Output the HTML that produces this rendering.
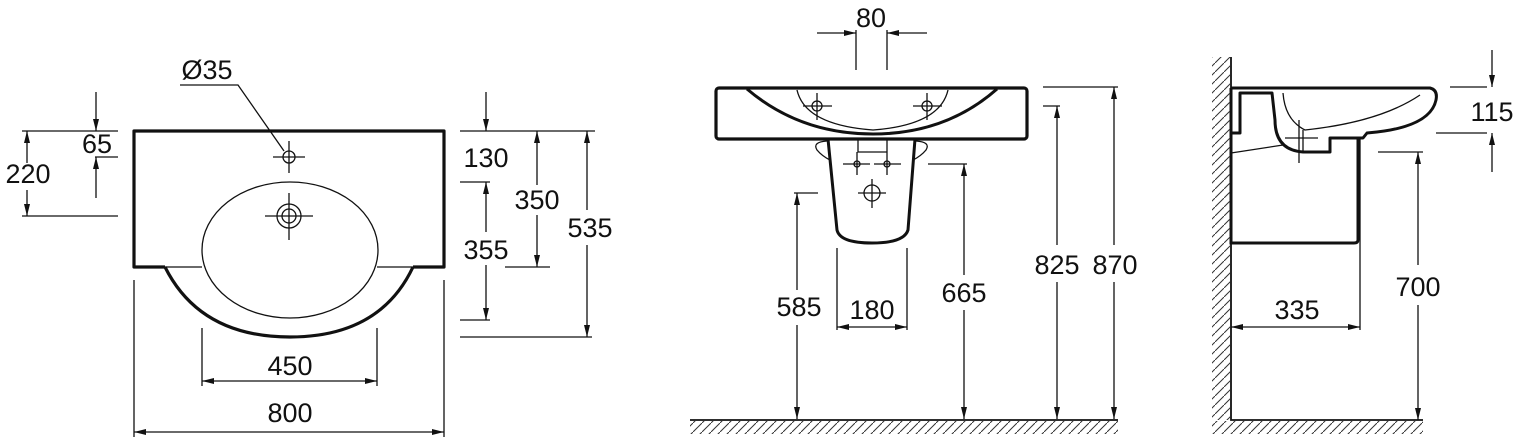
<!DOCTYPE html>
<html><head><meta charset="utf-8"><style>
html,body{margin:0;padding:0;background:#fff;}
svg{display:block;}
text{font-family:"Liberation Sans",Arial,sans-serif;font-size:27px;fill:#111;text-anchor:middle;}
</style></head><body>
<svg width="1516" height="446" viewBox="0 0 1516 446" xmlns="http://www.w3.org/2000/svg">
<defs>
<marker id="a" viewBox="0 0 12 6" refX="12" refY="3" markerWidth="12" markerHeight="6" orient="auto" markerUnits="userSpaceOnUse">
<path d="M0,0 L12,3 L0,6 z" fill="#111"/></marker>
<pattern id="h" width="9" height="9" patternUnits="userSpaceOnUse">
<path d="M0,9 L9,0" stroke="#333" stroke-width="1"/></pattern>
</defs>
<g fill="none" stroke="#111" stroke-width="1.3">
<path d="M165,267 L134,267 L134,131 L444,131 L444,267 L413,267" stroke-width="3.2" stroke-linejoin="round"/>
<path d="M165,267 Q200,337 290,337 Q380,337 413,267" stroke-width="3.2"/>
<path d="M165,267 L202,267 M377,267 L413,267"/>
<ellipse cx="290" cy="250" rx="88" ry="68"/>
<circle cx="289" cy="157" r="6"/><path d="M273,157 H305 M289,141 V173"/>
<circle cx="289" cy="216" r="12"/><circle cx="289" cy="216" r="7"/><path d="M265,216 H313 M289,193 V240"/>
<path d="M180,85 H238 L284,151"/>
<path d="M22,131 H118 M95,157 H118 M22,216 H118"/>
<path d="M96,92 V131" marker-end="url(#a)"/><path d="M96,198 V157" marker-end="url(#a)"/>
<path d="M27,163 V131" marker-end="url(#a)"/><path d="M27,190 V216" marker-end="url(#a)"/>
<path d="M460,131 H595 M460,182 H490 M505,267 H550 M460,320 H490 M460,337 H592"/>
<path d="M486,92 V131" marker-end="url(#a)"/>
<path d="M486,232 V182" marker-end="url(#a)"/><path d="M486,265 V320" marker-end="url(#a)"/>
<path d="M537,185 V131" marker-end="url(#a)"/><path d="M537,215 V267" marker-end="url(#a)"/>
<path d="M587,210 V131" marker-end="url(#a)"/><path d="M587,245 V337" marker-end="url(#a)"/>
<path d="M134,280 V437 M444,280 V437 M202,328 V386 M377,328 V386"/>
<path d="M290,381 H202" marker-end="url(#a)"/><path d="M290,381 H377" marker-end="url(#a)"/>
<path d="M290,432 H134" marker-end="url(#a)"/><path d="M290,432 H444" marker-end="url(#a)"/>
<rect x="716" y="88" width="311" height="51" rx="3" stroke-width="3.2"/>
<path d="M747,89 Q800,134 873,134 Q946,134 997,89" stroke-width="3"/>
<path d="M797,90 Q805,125 873,130 Q940,125 948,90"/>
<circle cx="817" cy="106" r="5"/><path d="M803,106 H832 M817,93 V120"/>
<circle cx="927" cy="106" r="5"/><path d="M913,106 H942 M927,93 V120"/>
<path d="M856,30 V70 M887,30 V70"/>
<path d="M817,33 H856" marker-end="url(#a)"/><path d="M927,33 H887" marker-end="url(#a)"/>
<path d="M828,139 L837,230 Q840,243 872,243 Q904,243 908,230 L915,139" stroke-width="3"/>
<path d="M827,141 Q812,142 817,150 Q822,156 830,160 M916,141 Q931,142 926,150 Q921,156 913,160"/>
<path d="M858,139 V152 H887 V139 M857,152 V175 M887,152 V175"/>
<circle cx="857" cy="164" r="3"/><circle cx="887" cy="164" r="3"/><path d="M843,164 H870 M874,164 H901"/>
<circle cx="872" cy="193" r="8"/><path d="M858,193 H886 M872,179 V208"/>
<path d="M794,193 H818 M928,164 H967 M837,248 V330 M907,248 V330 M1043,106 H1060 M1043,87 H1118"/>
<path d="M797,290 V193" marker-end="url(#a)"/><path d="M797,325 V419" marker-end="url(#a)"/>
<path d="M964,275 V164" marker-end="url(#a)"/><path d="M964,310 V419" marker-end="url(#a)"/>
<path d="M872,327 H837" marker-end="url(#a)"/><path d="M872,327 H907" marker-end="url(#a)"/>
<path d="M1057,245 V106" marker-end="url(#a)"/><path d="M1057,282 V419" marker-end="url(#a)"/>
<path d="M1114,245 V87" marker-end="url(#a)"/><path d="M1114,282 V419" marker-end="url(#a)"/>
<path d="M690,420 H1118" stroke-width="1.8"/>
<path d="M1231,57 V420 H1423" stroke-width="1.8"/>
<path d="M1231,88 H1430 Q1438,90 1436,100 Q1430,128 1367,133 L1363,138 H1330 V152 H1303 Q1275,150 1275,120 L1272,93 H1240 V133 H1231" stroke-width="3" stroke-linejoin="round"/>
<path d="M1358,138 V240 Q1358,243 1354,243 H1231 V88" stroke-width="3"/>
<path d="M1283,93 Q1285,120 1305,130 Q1380,122 1420,95"/>
<path d="M1231,153 L1283,145"/>
<path d="M1303,130 V152 M1285,138 H1318 M1299,120 V163"/>
<path d="M1450,87 H1487 M1436,133 H1487 M1378,152 H1423 M1360,138 V330"/>
<path d="M1492,50 V87" marker-end="url(#a)"/><path d="M1492,172 V133" marker-end="url(#a)"/>
<path d="M1418,265 V152" marker-end="url(#a)"/><path d="M1418,305 V420" marker-end="url(#a)"/>
<path d="M1297,327 H1231" marker-end="url(#a)"/><path d="M1297,327 H1360" marker-end="url(#a)"/>
</g>
<rect x="690" y="421" width="428" height="13" fill="url(#h)"/>
<rect x="1212" y="57" width="18" height="363" fill="url(#h)"/>
<rect x="1212" y="421" width="211" height="13" fill="url(#h)"/>
<text x="207" y="79">Ø35</text>
<text x="97" y="153">65</text>
<text x="28" y="183">220</text>
<text x="486" y="167">130</text>
<text x="537" y="209">350</text>
<text x="486" y="259">355</text>
<text x="590" y="237">535</text>
<text x="290" y="375">450</text>
<text x="290" y="422">800</text>
<text x="871" y="27">80</text>
<text x="799" y="316">585</text>
<text x="872" y="319">180</text>
<text x="964" y="302">665</text>
<text x="1057" y="274">825</text>
<text x="1115" y="274">870</text>
<text x="1492" y="121">115</text>
<text x="1418" y="296">700</text>
<text x="1297" y="319">335</text>
</svg>
</body></html>
